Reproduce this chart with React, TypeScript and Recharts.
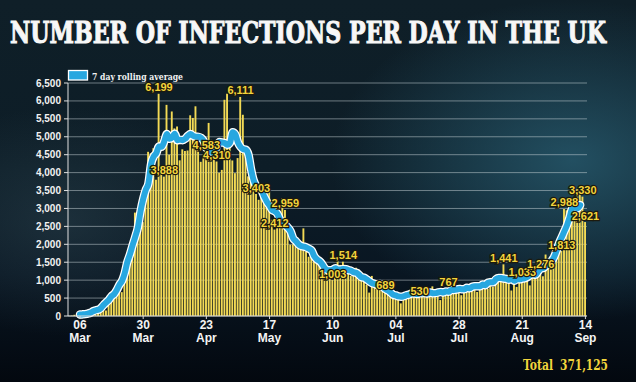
import React from "react";
import {
  Bar,
  CartesianGrid,
  ComposedChart,
  LabelList,
  Line,
  XAxis,
  YAxis,
} from "recharts";

// day index 0 = 06 Mar; first bar is 02 Mar
const FIRST_DAY = -4;
const LAST_AVG_DAY = 190;

const MARCH_CASES = [
  4, 11, 34, 29, 48, 43, 67, 48, 52, 83, 134, 208, 342, 251, 152, 407, 676,
  643, 714, 1035, 665, 967, 1427, 1452, 2129, 2885, 2546, 2433, 2619, 3250,
];
const APRIL_CASES = [
  4580, 4540, 4680, 3800, 6199, 4100, 3888, 5890, 4500, 5706, 5234, 5288, 4342,
  4650, 4603, 4617, 5599, 5525, 5850, 4676, 4301, 4451, 4583, 5386, 4913, 4463,
  4310, 3996, 4076, 6032,
];
const MAY_CASES = [
  6201, 4806, 4339, 3985, 4406, 6111, 5614, 4649, 3896, 3923, 3877, 3403, 3242,
  3446, 3560, 3450, 3534, 2684, 2412, 2472, 2615, 3287, 2959, 2409, 1990, 2000,
  1970, 1920, 1900, 2445, 1800,
];
const JUNE_CASES = [
  1653, 1871, 1805, 1650, 1557, 1326, 1205, 1300, 1280, 1003, 1266, 1541, 1425,
  1514, 1056, 1279, 1115, 1218, 1346, 1295, 1221, 958, 874, 653, 1118, 1006,
  890, 901, 815, 689,
];
const JULY_CASES = [
  829, 576, 544, 624, 516, 352, 581, 630, 512, 650, 820, 650, 530, 598, 538,
  642, 687, 827, 580, 725, 445, 560, 769, 767, 767, 747, 685, 763, 581, 846,
  880,
];
const AUGUST_CASES = [
  743, 744, 938, 670, 892, 950, 871, 758, 1062, 816, 1148, 1009, 950, 1441,
  1012, 1040, 713, 1089, 812, 1182, 1033, 1288, 1041, 853, 1184, 1048, 1522,
  1276, 1108, 1715, 1406,
];
const SEPTEMBER_CASES = [
  1295, 1508, 1735, 1940, 1813, 2988, 2948, 2460, 2659, 2919, 3539, 3497, 3330,
  2621,
];

const LABEL_DAYS = [
  30, 32, 48, 52, 61, 67, 74, 78, 96, 100, 116, 129, 140, 161, 168, 175, 183,
  184, 191, 192,
];

const X_TICKS = [0, 24, 48, 72, 96, 120, 144, 168, 192];
const X_TICK_DAY = ["06", "30", "23", "17", "10", "04", "28", "21", "14"];
const X_TICK_MONTH = ["Mar", "Mar", "Apr", "May", "Jun", "Jul", "Jul", "Aug", "Sep"];
const Y_TICKS = [
  0, 500, 1000, 1500, 2000, 2500, 3000, 3500, 4000, 4500, 5000, 5500, 6000, 6500,
];

const TOTAL = "371,125";

const daily = [
  ...MARCH_CASES,
  ...APRIL_CASES,
  ...MAY_CASES,
  ...JUNE_CASES,
  ...JULY_CASES,
  ...AUGUST_CASES,
  ...SEPTEMBER_CASES,
];

// centred 7 day rolling average of the daily bars
const data = daily.map((v, i) => {
  const d = i + FIRST_DAY;
  let avg: number | null = null;
  if (d >= 0 && d <= LAST_AVG_DAY) {
    const win = daily.slice(Math.max(0, i - 3), Math.min(daily.length, i + 4));
    avg = win.reduce((s, x) => s + x, 0) / win.length;
  }
  return { d, v, avg, lbl: LABEL_DAYS.includes(d) ? v : null };
});

const fmt = (n: number) => n.toLocaleString("en-US");

const SERIF = "'DejaVu Serif', 'Liberation Serif', serif";

function XTick({ x, y, payload }: any) {
  const i = X_TICKS.indexOf(payload.value);
  return (
    <g fontFamily="'Liberation Sans', Arial, sans-serif" fontWeight={700} fontSize={12} fill="#f4f4f4">
      <text x={x} y={y + 8} textAnchor="middle">{X_TICK_DAY[i]}</text>
      <text x={x} y={y + 21} textAnchor="middle">{X_TICK_MONTH[i]}</text>
    </g>
  );
}

function PeakLabel(props: any) {
  const { x, y, value } = props;
  if (value == null) return null;
  return (
    <text
      x={x}
      y={y - 2.5}
      textAnchor="middle"
      fontFamily="'Liberation Sans Narrow', 'Liberation Sans', sans-serif"
      fontWeight={700}
      fontSize={11}
      fill="#f3d43c"
      stroke="#1c1a0e"
      strokeWidth={2.5}
      paintOrder="stroke"
    >
      {fmt(value)}
    </text>
  );
}

export default function App() {
  return (
    <div
      style={{
        position: "absolute",
        left: 0,
        top: 0,
        width: 636,
        height: 382,
        overflow: "hidden",
        background:
          "radial-gradient(ellipse 38% 42% at 90% 42%, rgba(40,92,112,0.8), rgba(40,92,112,0) 100%)," +
          "radial-gradient(ellipse 28% 30% at 10% 58%, rgba(60,88,100,0.35), rgba(60,88,100,0) 100%)," +
          "linear-gradient(180deg, #0f1f28 0%, #0d1d27 45%, #091622 72%, #03080f 100%)",
      }}
    >
      <ComposedChart
        width={636}
        height={382}
        data={data}
        margin={{ top: 83, right: 49, left: 0, bottom: 0 }}
        style={{ position: "absolute", left: 0, top: 0 }}
      >
        <CartesianGrid vertical={false} stroke="rgba(205,215,220,0.5)" strokeWidth={1} />
        <XAxis
          dataKey="d"
          type="number"
          domain={[-4.56, 192.6]}
          allowDataOverflow
          ticks={X_TICKS}
          interval={0}
          height={66}
          tick={<XTick />}
          tickSize={3}
          tickMargin={2}
          axisLine={{ stroke: "#d8d8d8" }}
          tickLine={{ stroke: "#d8d8d8" }}
        />
        <YAxis
          type="number"
          domain={[0, 6500]}
          ticks={Y_TICKS}
          interval={0}
          width={68}
          tickFormatter={fmt}
          tickSize={4}
          tickMargin={3}
          axisLine={{ stroke: "#e0e0e0" }}
          tickLine={{ stroke: "#e0e0e0" }}
          tick={{
            fill: "#f2f2f2",
            fontSize: 10,
            fontWeight: 700,
            fontFamily: "'Liberation Sans', Arial, sans-serif",
          }}
        />
        <Bar dataKey="v" fill="#f3da55" barSize={1.9} isAnimationActive={false} />
        <Line
          dataKey="avg"
          type="monotone"
          stroke="#ffffff"
          strokeWidth={8.5}
          dot={false}
          activeDot={false}
          strokeLinecap="round"
          isAnimationActive={false}
        />
        <Line
          dataKey="avg"
          type="monotone"
          stroke="#27a7e0"
          strokeWidth={6}
          dot={false}
          activeDot={false}
          strokeLinecap="round"
          isAnimationActive={false}
        />
        <Line
          dataKey="v"
          stroke="none"
          dot={false}
          activeDot={false}
          isAnimationActive={false}
        >
          <LabelList dataKey="lbl" content={<PeakLabel />} />
        </Line>
      </ComposedChart>
      <svg
        width={636}
        height={382}
        style={{ position: "absolute", left: 0, top: 0, pointerEvents: "none" }}
      >
        <text
          x={10}
          y={42.6}
          textLength={596}
          lengthAdjust="spacingAndGlyphs"
          fontFamily={SERIF}
          fontWeight={700}
          fontSize={30}
          fill="#f7f7f7"
          stroke="#f7f7f7"
          strokeWidth={1.1}
        >
          NUMBER OF INFECTIONS PER DAY IN THE UK
        </text>
        <rect x={68.5} y={70.5} width={19} height={9.5} fill="#27a7e0" stroke="#ffffff" strokeWidth={1.3} />
        <text
          x={92}
          y={79.5}
          textLength={91}
          lengthAdjust="spacingAndGlyphs"
          fontFamily={SERIF}
          fontWeight={700}
          fontSize={10}
          fill="#f2f2f2"
        >
          7 day rolling average
        </text>
        <g fontFamily={SERIF} fontWeight={700} fontSize={14} fill="#f2d53c">
          <text x={523} y={369.5} textLength={30} lengthAdjust="spacingAndGlyphs">Total</text>
          <text x={560} y={369.5} textLength={48} lengthAdjust="spacingAndGlyphs">{TOTAL}</text>
        </g>
      </svg>
    </div>
  );
}
